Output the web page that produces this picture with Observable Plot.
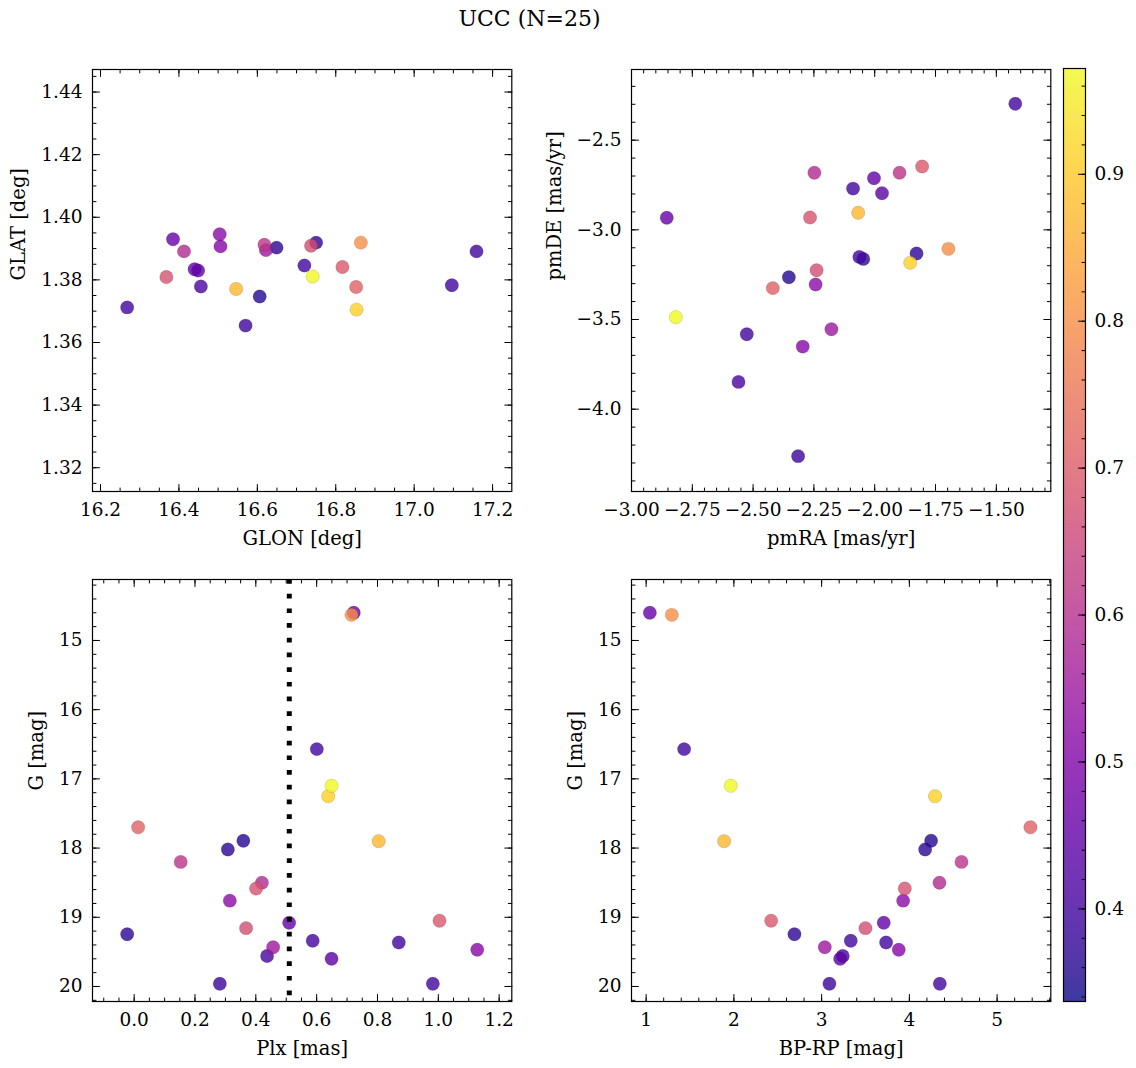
<!DOCTYPE html>
<html><head><meta charset="utf-8">
<script src="https://cdn.jsdelivr.net/npm/d3@7"></script>
<script src="https://cdn.jsdelivr.net/npm/@observablehq/plot@0.6"></script>
<style>
html,body{margin:0;padding:0;background:#fff;}
#fig{position:relative;width:1136px;height:1068px;font-family:"DejaVu Serif",serif;color:#000;}
.pan{position:absolute;}
.pan svg{overflow:visible;display:block;}
#title{position:absolute;left:0;width:1059px;top:6px;text-align:center;font-size:22px;}
</style></head><body>
<div id="fig"><div id="title">UCC (N=25)</div></div>
<script>
// ---- data (one entry per star) ----
const prob = [0.46,0.80,0.40,0.97,0.91,0.87,0.71,0.36,0.37,0.61,0.59,0.68,0.52,0.45,0.69,0.37,0.67,0.40,0.40,0.51,0.55,0.41,0.44,0.39,0.40];
const glon = [16.385,16.864,16.268,16.741,16.853,16.546,16.852,16.606,16.750,16.618,16.413,16.368,16.504,16.440,16.817,16.649,16.737,16.720,17.096,16.506,16.622,16.456,16.449,16.570,17.159];
const glat = [1.3930,1.3919,1.3712,1.3811,1.3705,1.3771,1.3777,1.3747,1.3919,1.3912,1.3891,1.3809,1.3946,1.3834,1.3841,1.3903,1.3909,1.3846,1.3783,1.3907,1.3895,1.3779,1.3830,1.3654,1.3891];
const pmra = [-2.855,-1.697,-1.422,-2.818,-1.854,-2.068,-2.419,-2.353,-2.047,-1.898,-2.248,-2.266,-2.243,-2.003,-1.805,-1.828,-2.239,-2.089,-2.526,-2.296,-2.178,-2.560,-1.970,-2.315,-2.063];
const pmde = [-2.933,-3.106,-2.297,-3.487,-3.184,-2.905,-3.325,-3.264,-3.162,-2.682,-2.682,-2.931,-3.305,-2.712,-2.647,-3.132,-3.225,-2.770,-3.582,-3.651,-3.554,-3.848,-2.796,-4.262,-3.151];
const plx  = [0.722,0.7145,0.6005,0.649,0.638,0.804,0.013,0.359,0.308,0.153,0.420,0.401,0.3145,0.5096,1.004,-0.023,0.368,0.587,0.870,1.128,0.457,0.437,0.649,0.2816,0.982];
const gmag = [14.60,14.63,16.57,17.10,17.25,17.90,17.70,17.895,18.02,18.20,18.50,18.585,18.76,19.08,19.05,19.245,19.157,19.34,19.364,19.47,19.432,19.56,19.60,19.961,19.961];
const bprp = [1.042,1.2925,1.433,1.965,4.293,1.889,5.380,4.248,4.180,4.594,4.343,3.948,3.929,3.708,2.4245,2.690,3.4995,3.332,3.735,3.879,3.036,3.241,3.211,3.089,4.347];
const plxLine = [0.51];

// tick labels
const glonTicks = [16.2,16.4,16.6,16.8,17.0,17.2];
const glatTicks = [1.32,1.34,1.36,1.38,1.40,1.42,1.44];
const pmraTicks = [-3.00,-2.75,-2.50,-2.25,-2.00,-1.75,-1.50];
const pmdeTicks = [-4.0,-3.5,-3.0,-2.5];
const plxTicks  = [0.0,0.2,0.4,0.6,0.8,1.0,1.2];
const gTicks    = [15,16,17,18,19,20];
const bprpTicks = [1,2,3,4,5];
const cbarTicks = [0.4,0.5,0.6,0.7,0.8,0.9];

const rows = d3.sort(prob.map((p,i)=>({prob:p, glon:glon[i], glat:glat[i], pmra:pmra[i], pmde:pmde[i], plx:plx[i], g:gmag[i], bprp:bprp[i]})), d => d.prob);

const FONT = "DejaVu Serif";
const TICK_FS = 18.5;
const LABEL_FS = 19.5;
const ALPHA = 0.8;
const probDomain = [0.337, 0.972];
const colorOpt = {type: "linear", scheme: "plasma", domain: probDomain};
const tickShape = {draw(ctx, l) { ctx.moveTo(0, 0); ctx.lineTo(0, -l); }};

function minorRange(dom, step) {
  const lo = Math.min(...dom), hi = Math.max(...dom);
  const out = [];
  for (let k = Math.ceil(lo / step - 1e-9); k * step <= hi + 1e-9; k++) out.push(+(k * step).toFixed(6));
  return out;
}
function inTicks(values, axis, len, sides) {
  const common = {length: len, anchor: "start", shape: tickShape, stroke: "black", strokeWidth: 1};
  const m = [];
  if (axis === "x") {
    if (sides.includes("bottom")) m.push(Plot.vector(values, {...common, x: d => d, frameAnchor: "bottom", rotate: 0}));
    if (sides.includes("top")) m.push(Plot.vector(values, {...common, x: d => d, frameAnchor: "top", rotate: 180}));
  } else {
    if (sides.includes("left")) m.push(Plot.vector(values, {...common, y: d => d, frameAnchor: "left", rotate: 90}));
    if (sides.includes("right")) m.push(Plot.vector(values, {...common, y: d => d, frameAnchor: "right", rotate: -90}));
  }
  return m;
}
function xTickLabels(values, fmt) {
  return Plot.text(values, {x: d => d, text: d3.format(fmt), frameAnchor: "bottom", dy: 11, lineAnchor: "top", fontSize: TICK_FS, fontFamily: FONT, fill: "black"});
}
function yTickLabels(values, fmt, side) {
  return Plot.text(values, {y: d => d, text: d3.format(fmt), frameAnchor: side, dx: side === "left" ? -10 : 9, textAnchor: side === "left" ? "end" : "start", lineAnchor: "middle", fontSize: TICK_FS, fontFamily: FONT, fill: "black"});
}

function panel(o) {
  const marks = [
    Plot.dot(rows, {x: o.xk, y: o.yk, fill: "prob", r: 6.7, fillOpacity: ALPHA, stroke: "black", strokeOpacity: 0.2, strokeWidth: 0.6}),
    ...(o.extra || []),
    Plot.frame({stroke: "black", strokeWidth: 1.2}),
    ...inTicks(minorRange(o.xDomain, o.xMinor), "x", 3.5, ["bottom","top"]),
    ...inTicks(o.xTicks, "x", 7, ["bottom","top"]),
    ...inTicks(minorRange(o.yDomain, o.yMinor), "y", 3.5, ["left","right"]),
    ...inTicks(o.yTicks, "y", 7, ["left","right"]),
    xTickLabels(o.xTicks, o.xFmt),
    yTickLabels(o.yTicks, o.yFmt, "left"),
    Plot.text([o.xLabel], {text: d => d, frameAnchor: "bottom", dy: 47, lineAnchor: "middle", fontSize: LABEL_FS, fontFamily: FONT, fill: "black"}),
    Plot.text([o.yLabel], {text: d => d, frameAnchor: "left", dx: o.yLabelDx, rotate: -90, lineAnchor: "middle", fontSize: LABEL_FS, fontFamily: FONT, fill: "black"})
  ];
  const chart = Plot.plot({
    width: 540, height: 560,
    marginLeft: o.ml, marginRight: 540 - o.ml - 419.3, marginTop: 69, marginBottom: 560 - 69 - 422,
    x: {domain: o.xDomain, axis: null},
    y: {domain: o.yDomain, reverse: !!o.yReverse, axis: null},
    color: colorOpt,
    style: {fontFamily: FONT, fontSize: "18px", background: "transparent", color: "black", overflow: "visible"},
    marks
  });
  const div = document.createElement("div");
  div.className = "pan";
  div.style.left = o.left + "px";
  div.style.top = o.top + "px";
  div.appendChild(chart);
  document.getElementById("fig").appendChild(div);
}

panel({left: 0, top: 0, ml: 92, xk: "glon", yk: "glat",
  xDomain: [16.1796, 17.249], yDomain: [1.3124, 1.4472],
  xTicks: glonTicks, yTicks: glatTicks, xMinor: 0.05, yMinor: 0.005, xFmt: ".1f", yFmt: ".2f",
  xLabel: "GLON [deg]", yLabel: "GLAT [deg]", yLabelDx: -74});
panel({left: 540, top: 0, ml: 91, xk: "pmra", yk: "pmde",
  xDomain: [-3.0, -1.276], yDomain: [-4.459, -2.106],
  xTicks: pmraTicks, yTicks: pmdeTicks, xMinor: 0.05, yMinor: 0.1, xFmt: ".2f", yFmt: ".1f",
  xLabel: "pmRA [mas/yr]", yLabel: "pmDE [mas/yr]", yLabelDx: -77});
panel({left: 0, top: 510, ml: 92, xk: "plx", yk: "g",
  xDomain: [-0.137, 1.2416], yDomain: [14.119, 20.217], yReverse: true,
  xTicks: plxTicks, yTicks: gTicks, xMinor: 0.05, yMinor: 0.2, xFmt: ".1f", yFmt: "d",
  xLabel: "Plx [mas]", yLabel: "G [mag]", yLabelDx: -55.5,
  extra: [Plot.ruleX(plxLine, {stroke: "black", strokeWidth: 5, strokeDasharray: "4.7,10"})]});
panel({left: 540, top: 510, ml: 91, xk: "bprp", yk: "g",
  xDomain: [0.833, 5.612], yDomain: [14.119, 20.217], yReverse: true,
  xTicks: bprpTicks, yTicks: gTicks, xMinor: 0.2, yMinor: 0.2, xFmt: "d", yFmt: "d",
  xLabel: "BP-RP [mag]", yLabel: "G [mag]", yLabelDx: -56});

// colorbar
(function () {
  const cb = Plot.plot({
    width: 86, height: 1068, marginLeft: 13, marginRight: 51, marginTop: 68, marginBottom: 67,
    x: {domain: [0, 1], axis: null},
    y: {domain: probDomain, axis: null},
    color: colorOpt,
    style: {fontFamily: FONT, fontSize: "18px", background: "transparent", color: "black", overflow: "visible"},
    marks: [
      Plot.raster({x1: 0, x2: 1, y1: probDomain[0], y2: probDomain[1], fill: (x, y) => y, fillOpacity: ALPHA, width: 1, height: 512, imageRendering: "auto"}),
      Plot.frame({stroke: "black", strokeWidth: 1.2}),
      ...inTicks(minorRange(probDomain, 0.02), "y", 3.5, ["right"]),
      ...inTicks(cbarTicks, "y", 7, ["right"]),
      yTickLabels(cbarTicks, ".1f", "right")
    ]
  });
  const div = document.createElement("div");
  div.className = "pan";
  div.style.left = "1050px";
  div.style.top = "0px";
  div.appendChild(cb);
  document.getElementById("fig").appendChild(div);
})();
</script>
</body></html>
